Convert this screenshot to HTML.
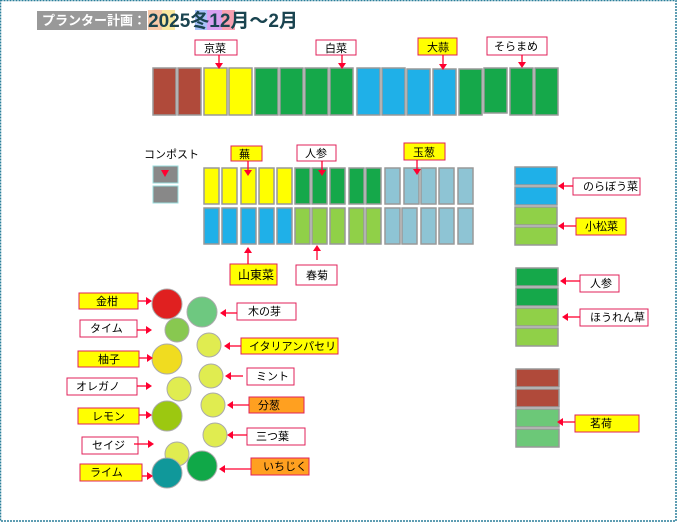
<!DOCTYPE html>
<html><head><meta charset="utf-8"><style>
html,body{margin:0;padding:0;background:#fff}
svg{display:block}
text{font-family:"Liberation Sans","Noto Sans CJK JP",sans-serif;font-size:11px;fill:#000}
.b{stroke:#999;stroke-width:1.5}
.l{fill:#fff;stroke:#e0205a;stroke-width:1}
.y{fill:#ffff00;stroke:#e0205a;stroke-width:1}
.o{fill:#ffa020;stroke:#e0205a;stroke-width:1}
.a{stroke:#ff0030;stroke-width:1.3;fill:none}
.h{fill:#ff0030}
</style></head><body>
<svg width="677" height="523" viewBox="0 0 677 523">
<rect x="0.5" y="0.5" width="675.5" height="520.5" fill="none" stroke="#2a7f9a" stroke-width="1.5" stroke-dasharray="2,1"/>
<rect x="37" y="11" width="110" height="19" fill="#999"/>
<text x="42" y="25" style="font-size:13px;fill:#fff;font-weight:bold">プランター計画：</text>
<rect x="148" y="10" width="14" height="20" fill="#f8c8a8"/>
<rect x="162" y="10" width="13" height="20" fill="#f8e8a0"/>
<rect x="195" y="10" width="12" height="20" fill="#a8c0f8"/>
<rect x="207" y="10" width="15" height="20" fill="#d8a0f0"/>
<rect x="222" y="10" width="13" height="20" fill="#f8a0b0"/>
<text x="148" y="27" style="font-size:19px;fill:#1a4450;font-weight:bold">2025冬12月～2月</text>

<g class="b">
<rect x="153" y="68" width="23" height="47" fill="#b04a3a"/>
<rect x="178" y="68" width="23" height="47" fill="#b04a3a"/>
<rect x="204" y="68" width="23" height="47" fill="#ffff00"/>
<rect x="229" y="68" width="23" height="47" fill="#ffff00"/>
<rect x="255" y="68" width="23" height="47" fill="#15a84a"/>
<rect x="280" y="68" width="23" height="47" fill="#15a84a"/>
<rect x="305" y="68" width="23" height="47" fill="#15a84a"/>
<rect x="330" y="68" width="23" height="47" fill="#15a84a"/>
<rect x="357" y="68" width="23" height="47" fill="#1fb0e8"/>
<rect x="382" y="68" width="23" height="47" fill="#1fb0e8"/>
<rect x="407" y="69" width="23" height="46" fill="#1fb0e8"/>
<rect x="433" y="69" width="23" height="46" fill="#1fb0e8"/>
<rect x="459" y="69" width="23" height="46" fill="#15a84a"/>
<rect x="484" y="68" width="23" height="45" fill="#15a84a"/>
<rect x="510" y="68" width="23" height="47" fill="#15a84a"/>
<rect x="535" y="68" width="23" height="47" fill="#15a84a"/>
</g>
<rect class="l" x="195" y="40" width="42" height="15"/><text x="204" y="52">京菜</text>
<path class="a" d="M219 55V65"/><path class="h" d="M215 63h8l-4 6z"/>
<rect class="l" x="316" y="40" width="40" height="15"/><text x="325" y="52">白菜</text>
<path class="a" d="M342 55V65"/><path class="h" d="M338 63h8l-4 6z"/>
<rect class="y" x="418" y="38" width="39" height="17"/><text x="427" y="51">大蒜</text>
<path class="a" d="M443 55V66"/><path class="h" d="M439 64h8l-4 6z"/>
<rect class="l" x="487" y="37" width="60" height="18"/><text x="494" y="50">そらまめ</text>
<path class="a" d="M522 55V64"/><path class="h" d="M518 62h8l-4 6z"/>

<text x="144" y="158">コンポスト</text>
<rect x="153" y="166" width="25" height="17" fill="#888" stroke="#9dd" stroke-width="1"/>
<rect x="153" y="186" width="25" height="17" fill="#888" stroke="#9dd" stroke-width="1"/>
<path class="h" d="M161 170h8l-4 7z"/>

<g class="b">
<rect x="204" y="168" width="15" height="36" fill="#ffff00"/>
<rect x="222" y="168" width="15" height="36" fill="#ffff00"/>
<rect x="241" y="168" width="15" height="36" fill="#ffff00"/>
<rect x="259" y="168" width="15" height="36" fill="#ffff00"/>
<rect x="277" y="168" width="15" height="36" fill="#ffff00"/>
<rect x="295" y="168" width="15" height="36" fill="#15a84a"/>
<rect x="312" y="168" width="15" height="36" fill="#15a84a"/>
<rect x="330" y="168" width="15" height="36" fill="#15a84a"/>
<rect x="349" y="168" width="15" height="36" fill="#15a84a"/>
<rect x="366" y="168" width="15" height="36" fill="#15a84a"/>
<rect x="385" y="168" width="15" height="36" fill="#8ec4d4"/>
<rect x="404" y="168" width="15" height="36" fill="#8ec4d4"/>
<rect x="421" y="168" width="15" height="36" fill="#8ec4d4"/>
<rect x="439" y="168" width="15" height="36" fill="#8ec4d4"/>
<rect x="458" y="168" width="15" height="36" fill="#8ec4d4"/>
<rect x="204" y="208" width="15" height="36" fill="#1fb0e8"/>
<rect x="222" y="208" width="15" height="36" fill="#1fb0e8"/>
<rect x="241" y="208" width="15" height="36" fill="#1fb0e8"/>
<rect x="259" y="208" width="15" height="36" fill="#1fb0e8"/>
<rect x="277" y="208" width="15" height="36" fill="#1fb0e8"/>
<rect x="295" y="208" width="15" height="36" fill="#90d048"/>
<rect x="312" y="208" width="15" height="36" fill="#90d048"/>
<rect x="330" y="208" width="15" height="36" fill="#90d048"/>
<rect x="349" y="208" width="15" height="36" fill="#90d048"/>
<rect x="366" y="208" width="15" height="36" fill="#90d048"/>
<rect x="385" y="208" width="15" height="36" fill="#8ec4d4"/>
<rect x="402" y="208" width="15" height="36" fill="#8ec4d4"/>
<rect x="421" y="208" width="15" height="36" fill="#8ec4d4"/>
<rect x="439" y="208" width="15" height="36" fill="#8ec4d4"/>
<rect x="458" y="208" width="15" height="36" fill="#8ec4d4"/>
</g>
<rect class="y" x="231" y="146" width="31" height="15"/><text x="239" y="158">蕪</text>
<path class="a" d="M248 161V172"/><path class="h" d="M244 170h8l-4 6z"/>
<rect class="l" x="297" y="145" width="39" height="16"/><text x="305" y="157">人参</text>
<path class="a" d="M322 161V172"/><path class="h" d="M318 170h8l-4 6z"/>
<rect class="y" x="404" y="143" width="41" height="17"/><text x="413" y="156">玉葱</text>
<path class="a" d="M417 160V171"/><path class="h" d="M413 169h8l-4 6z"/>
<rect class="y" x="230" y="264" width="47" height="21"/><text x="238" y="279" style="font-size:12px">山東菜</text>
<path class="a" d="M248 264V252"/><path class="h" d="M244 253h8l-4-6z"/>
<rect class="l" x="296" y="265" width="41" height="20"/><text x="306" y="279">春菊</text>
<path class="a" d="M317 260V250"/><path class="h" d="M313 251h8l-4-6z"/>

<g class="b">
<rect x="515" y="167" width="42" height="18" fill="#1fb0e8"/>
<rect x="515" y="187" width="42" height="18" fill="#1fb0e8"/>
<rect x="515" y="207" width="42" height="18" fill="#90d048"/>
<rect x="515" y="227" width="42" height="18" fill="#90d048"/>
<rect x="516" y="268" width="42" height="18" fill="#15a84a"/>
<rect x="516" y="288" width="42" height="18" fill="#15a84a"/>
<rect x="516" y="308" width="42" height="18" fill="#90d048"/>
<rect x="516" y="328" width="42" height="18" fill="#90d048"/>
<rect x="516" y="369" width="43" height="18" fill="#b04a3a"/>
<rect x="516" y="389" width="43" height="18" fill="#b04a3a"/>
<rect x="516" y="409" width="43" height="18" fill="#6cc878"/>
<rect x="516" y="429" width="43" height="18" fill="#6cc878"/>
</g>
<rect class="l" x="573" y="178" width="67" height="17"/><text x="583" y="190">のらぼう菜</text>
<path class="a" d="M573 186H562"/><path class="h" d="M564 182v8l-6-4z"/>
<rect class="y" x="576" y="218" width="50" height="17"/><text x="585" y="230">小松菜</text>
<path class="a" d="M576 226H562"/><path class="h" d="M564 222v8l-6-4z"/>
<rect class="l" x="580" y="275" width="39" height="17"/><text x="590" y="287">人参</text>
<path class="a" d="M580 281H564"/><path class="h" d="M566 277v8l-6-4z"/>
<rect class="l" x="580" y="309" width="68" height="17"/><text x="590" y="321">ほうれん草</text>
<path class="a" d="M580 317H566"/><path class="h" d="M568 313v8l-6-4z"/>
<rect class="y" x="575" y="415" width="64" height="17"/><text x="590" y="427">茗荷</text>
<path class="a" d="M575 422H561"/><path class="h" d="M563 418v8l-6-4z"/>

<g stroke="#aaa" stroke-width="1">
<circle cx="167" cy="304" r="15" fill="#e02020"/>
<circle cx="202" cy="312" r="15" fill="#6ec880"/>
<circle cx="177" cy="330" r="12" fill="#88c850"/>
<circle cx="209" cy="345" r="12" fill="#e0ec50"/>
<circle cx="167" cy="359" r="15" fill="#f0dc20"/>
<circle cx="211" cy="376" r="12" fill="#e0ec50"/>
<circle cx="179" cy="389" r="12" fill="#e0ec50"/>
<circle cx="213" cy="405" r="12" fill="#e0ec50"/>
<circle cx="167" cy="416" r="15" fill="#9cc810"/>
<circle cx="215" cy="435" r="12" fill="#e0ec50"/>
<circle cx="177" cy="454" r="12" fill="#e0ec50"/>
<circle cx="167" cy="473" r="15" fill="#10989a"/>
<circle cx="202" cy="466" r="15" fill="#10a848"/>
</g>
<rect class="y" x="79" y="293" width="59" height="16"/><text x="96" y="305">金柑</text>
<path class="a" d="M138 301H148"/><path class="h" d="M146 297v8l6-4z"/>
<rect class="l" x="80" y="320" width="57" height="17"/><text x="90" y="332">タイム</text>
<path class="a" d="M137 330H148"/><path class="h" d="M146 326v8l6-4z"/>
<rect class="y" x="78" y="351" width="61" height="16"/><text x="98" y="363">柚子</text>
<path class="a" d="M139 358H149"/><path class="h" d="M147 354v8l6-4z"/>
<rect class="l" x="67" y="378" width="70" height="17"/><text x="76" y="390">オレガノ</text>
<path class="a" d="M137 386H148"/><path class="h" d="M146 382v8l6-4z"/>
<rect class="y" x="78" y="408" width="61" height="16"/><text x="92" y="420">レモン</text>
<path class="a" d="M139 415H148"/><path class="h" d="M146 411v8l6-4z"/>
<rect class="l" x="82" y="437" width="56" height="17"/><text x="92" y="449">セイジ</text>
<path class="a" d="M134 444H150"/><path class="h" d="M148 440v8l6-4z"/>
<rect class="y" x="80" y="464" width="62" height="17"/><text x="90" y="476">ライム</text>
<path class="a" d="M142 476H149"/><path class="h" d="M147 472v8l6-4z"/>
<rect class="l" x="237" y="303" width="59" height="17"/><text x="248" y="315">木の芽</text>
<path class="a" d="M237 313H224"/><path class="h" d="M226 309v8l-6-4z"/>
<rect class="y" x="241" y="338" width="97" height="16"/><text x="249" y="350">イタリアンパセリ</text>
<path class="a" d="M241 346H228"/><path class="h" d="M230 342v8l-6-4z"/>
<rect class="l" x="247" y="368" width="47" height="17"/><text x="256" y="380">ミント</text>
<path class="a" d="M243 376H229"/><path class="h" d="M231 372v8l-6-4z"/>
<rect class="o" x="249" y="397" width="55" height="16"/><text x="258" y="409">分葱</text>
<path class="a" d="M249 405H231"/><path class="h" d="M233 401v8l-6-4z"/>
<rect class="l" x="247" y="428" width="58" height="17"/><text x="256" y="440">三つ葉</text>
<path class="a" d="M247 435H231"/><path class="h" d="M233 431v8l-6-4z"/>
<rect class="o" x="251" y="458" width="58" height="17"/><text x="263" y="470">いちじく</text>
<path class="a" d="M251 469H223"/><path class="h" d="M225 465v8l-6-4z"/>
</svg>
</body></html>
